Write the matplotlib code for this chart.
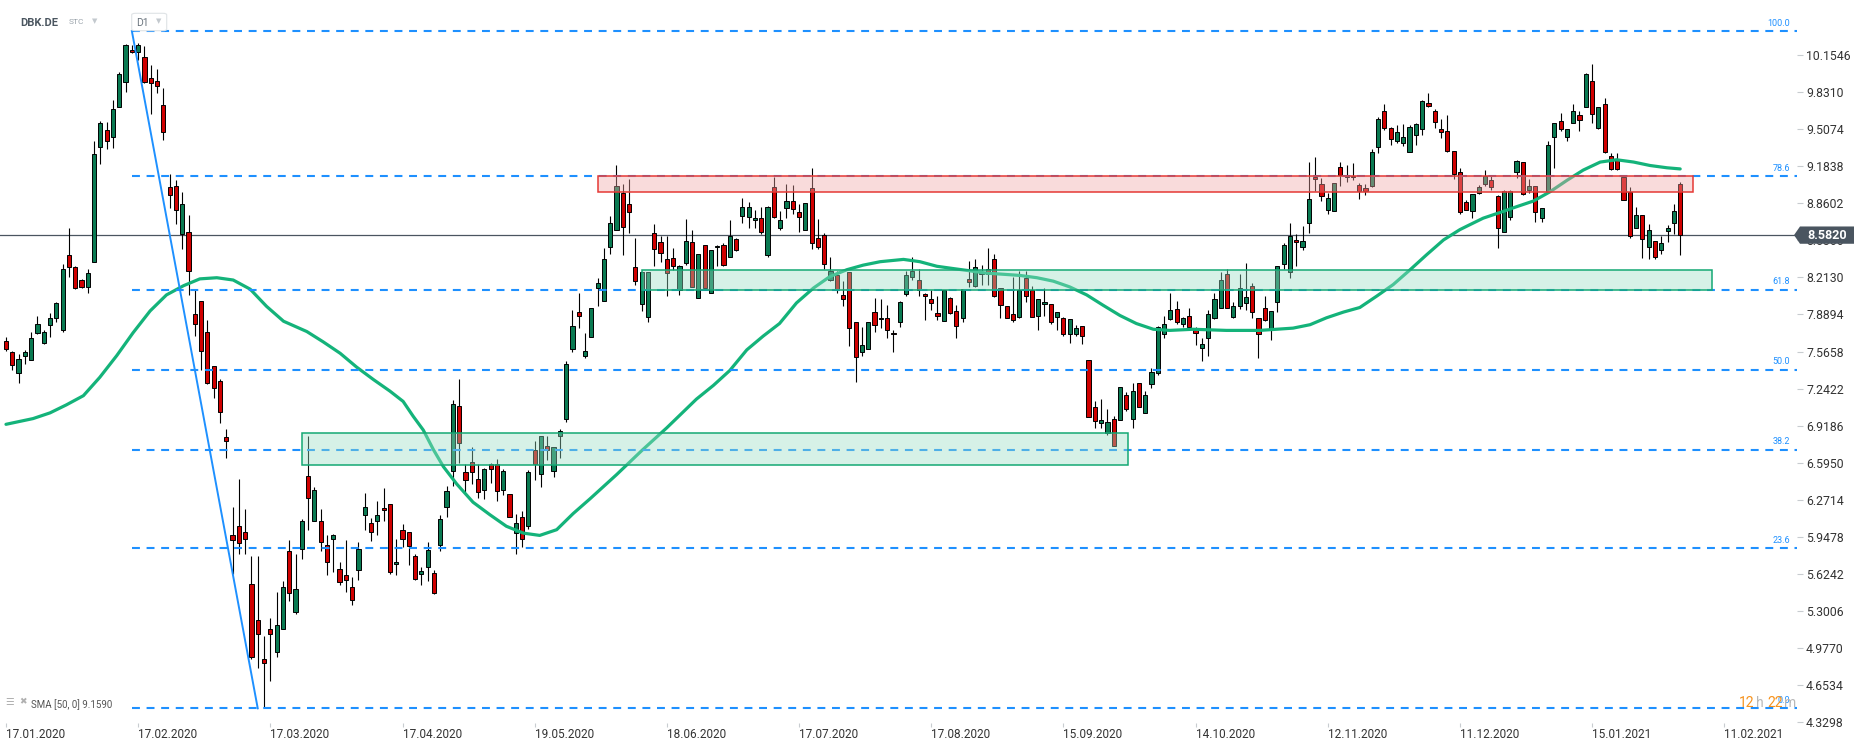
import matplotlib
matplotlib.use("Agg")
import matplotlib.pyplot as plt
import matplotlib.transforms as mtransforms
from matplotlib.patches import Rectangle, Polygon, FancyBboxPatch

plt.rcParams['font.family'] = ['Roboto', 'DejaVu Sans']

# daily candles DBK.DE, bar index 0 = 17.01.2020
opens = [7.66, 7.56, 7.38, 7.53, 7.49, 7.73, 7.64, 7.80, 7.86, 7.75,
         8.41, 8.30, 8.19, 8.13, 8.35, 9.35, 9.50, 9.44, 9.70, 9.92,
         10.20, 10.18, 10.14, 9.95, 9.93, 9.72, 9.00, 9.01, 8.59, 8.61,
         7.89, 8.01, 7.74, 7.44, 7.31, 6.82, 5.96, 6.04, 5.99, 5.54,
         5.22, 4.88, 5.14, 4.94, 5.14, 5.82, 5.29, 5.84, 6.48, 6.09,
         6.09, 5.88, 5.93, 5.67, 5.61, 5.51, 5.66, 6.14, 6.07, 6.09,
         6.20, 6.23, 5.71, 6.01, 5.99, 5.78, 5.62, 5.68, 5.63, 5.88,
         6.21, 6.52, 7.09, 6.51, 6.60, 6.45, 6.36, 6.58, 6.58, 6.36,
         6.32, 5.98, 6.12, 6.04, 6.71, 6.50, 6.74, 6.52, 6.83, 6.98,
         7.59, 7.91, 7.53, 7.69, 8.12, 8.01, 8.48, 8.63, 8.95, 8.85,
         8.30, 7.98, 7.87, 8.60, 8.52, 8.37, 8.38, 8.10, 8.34, 8.52,
         8.03, 8.50, 8.08, 8.48, 8.50, 8.39, 8.55, 8.75, 8.74, 8.71,
         8.73, 8.41, 9.00, 8.64, 8.82, 8.88, 8.78, 8.63, 8.99, 8.56,
         8.58, 8.19, 8.23, 8.06, 8.26, 7.82, 7.56, 7.59, 7.91, 7.85,
         7.86, 7.73, 7.82, 8.07, 8.22, 8.19, 8.07, 8.02, 7.90, 7.83,
         8.03, 7.92, 7.86, 8.20, 8.14, 8.24, 8.29, 8.37, 8.12, 7.96,
         7.89, 7.87, 8.21, 8.10, 7.88, 7.98, 7.98, 7.87, 7.86, 7.72,
         7.72, 7.79, 7.49, 7.08, 6.94, 6.85, 6.98, 6.97, 7.19, 6.98,
         7.29, 7.03, 7.28, 7.38, 7.72, 7.85, 7.94, 7.81, 7.88, 7.75,
         7.60, 7.68, 7.86, 7.95, 8.24, 7.87, 7.96, 7.99, 8.14, 7.86,
         7.95, 7.75, 8.00, 8.33, 8.26, 8.54, 8.48, 8.69, 9.09, 9.03,
         8.80, 8.79, 9.18, 9.11, 9.10, 9.02, 8.99, 9.01, 9.35, 9.67,
         9.52, 9.40, 9.39, 9.31, 9.46, 9.51, 9.74, 9.67, 9.51, 9.49,
         9.32, 9.13, 8.87, 8.79, 8.95, 9.03, 9.06, 8.92, 8.61, 8.74,
         9.13, 9.22, 8.98, 9.01, 8.73, 8.97, 9.44, 9.58, 9.44, 9.56,
         9.63, 9.70, 9.93, 9.52, 9.73, 9.27, 9.24, 9.09, 8.96, 8.64,
         8.76, 8.48, 8.53, 8.45, 8.62, 8.69, 9.03]
highs = [7.69, 7.57, 7.54, 7.58, 7.74, 7.88, 7.75, 7.90, 8.00, 8.33,
         8.64, 8.31, 8.20, 8.29, 9.40, 9.58, 9.57, 9.76, 10.01, 10.25,
         10.24, 10.26, 10.23, 10.07, 10.03, 9.87, 9.12, 9.06, 8.96, 8.76,
         8.10, 8.01, 7.84, 7.44, 7.33, 6.89, 6.21, 6.45, 6.19, 5.78,
         5.78, 5.08, 5.24, 5.47, 5.56, 5.92, 5.80, 6.10, 6.83, 6.38,
         6.19, 5.96, 5.97, 5.73, 5.92, 5.60, 5.90, 6.33, 6.11, 6.26,
         6.37, 6.23, 5.93, 6.06, 5.99, 5.80, 5.68, 5.90, 5.66, 6.14,
         6.39, 7.14, 7.33, 6.58, 6.73, 6.58, 6.55, 6.59, 6.63, 6.54,
         6.32, 6.15, 6.17, 6.53, 6.78, 6.83, 6.83, 6.73, 6.89, 7.48,
         7.93, 8.08, 7.73, 7.95, 8.21, 8.47, 8.75, 9.19, 9.03, 9.07,
         8.56, 8.26, 8.26, 8.68, 8.57, 8.57, 8.47, 8.32, 8.72, 8.63,
         8.42, 8.50, 8.45, 8.50, 8.51, 8.71, 8.56, 8.91, 8.87, 8.80,
         8.83, 8.84, 9.09, 8.79, 9.03, 9.02, 8.85, 8.86, 9.17, 8.72,
         8.60, 8.39, 8.27, 8.18, 8.26, 7.82, 7.78, 7.82, 8.03, 8.02,
         7.97, 7.75, 8.01, 8.27, 8.39, 8.29, 8.08, 8.10, 8.05, 8.10,
         8.04, 7.97, 8.11, 8.36, 8.37, 8.32, 8.47, 8.42, 8.12, 7.96,
         8.22, 8.27, 8.27, 8.14, 8.02, 8.12, 7.98, 7.91, 7.87, 7.85,
         7.80, 7.79, 7.49, 7.13, 7.15, 7.06, 7.00, 7.26, 7.21, 7.29,
         7.29, 7.22, 7.42, 7.79, 7.88, 8.08, 8.01, 7.87, 7.95, 7.78,
         7.68, 7.93, 8.08, 8.26, 8.29, 8.00, 8.24, 8.34, 8.16, 7.86,
         8.05, 7.92, 8.31, 8.51, 8.69, 8.59, 8.66, 9.22, 9.26, 9.08,
         8.95, 9.04, 9.22, 9.19, 9.21, 9.04, 9.03, 9.33, 9.61, 9.73,
         9.53, 9.54, 9.55, 9.54, 9.56, 9.76, 9.82, 9.68, 9.60, 9.63,
         9.32, 9.17, 8.89, 8.94, 9.02, 9.15, 9.10, 8.93, 8.98, 8.98,
         9.24, 9.22, 9.07, 9.01, 8.82, 9.40, 9.56, 9.65, 9.51, 9.73,
         9.67, 10.00, 10.08, 9.70, 9.78, 9.30, 9.30, 9.09, 9.00, 8.83,
         8.76, 8.68, 8.53, 8.57, 8.67, 8.85, 9.05]
lows = [7.57, 7.40, 7.29, 7.46, 7.49, 7.72, 7.63, 7.69, 7.82, 7.74,
        8.22, 8.11, 8.12, 8.08, 8.35, 9.20, 9.33, 9.34, 9.70, 9.83,
        10.17, 10.11, 9.91, 9.64, 9.82, 9.41, 8.82, 8.68, 8.46, 8.06,
        7.70, 7.40, 7.28, 7.16, 6.94, 6.64, 5.62, 5.80, 5.80, 4.88,
        4.80, 4.45, 4.69, 4.90, 5.14, 5.39, 5.27, 5.75, 6.01, 6.09,
        5.82, 5.61, 5.64, 5.53, 5.47, 5.35, 5.57, 6.01, 5.91, 5.96,
        6.09, 5.62, 5.61, 5.86, 5.70, 5.57, 5.53, 5.56, 5.45, 5.82,
        6.12, 6.39, 6.59, 6.34, 6.41, 6.29, 6.28, 6.42, 6.26, 6.31,
        6.12, 5.80, 5.86, 6.02, 6.44, 6.38, 6.62, 6.47, 6.64, 6.95,
        7.56, 7.77, 7.51, 7.69, 7.96, 8.01, 8.42, 8.63, 8.41, 8.60,
        8.15, 7.92, 7.82, 8.31, 8.35, 8.05, 8.28, 8.06, 8.32, 8.13,
        8.03, 8.12, 8.08, 8.31, 8.31, 8.39, 8.44, 8.69, 8.64, 8.64,
        8.59, 8.39, 8.73, 8.63, 8.73, 8.77, 8.61, 8.63, 8.46, 8.46,
        8.29, 8.18, 8.08, 7.96, 7.61, 7.30, 7.53, 7.59, 7.74, 7.77,
        7.68, 7.56, 7.78, 8.05, 8.19, 8.05, 7.84, 7.93, 7.84, 7.83,
        7.89, 7.68, 7.82, 8.13, 8.13, 8.15, 8.15, 8.04, 7.86, 7.86,
        7.82, 7.86, 8.00, 7.87, 7.75, 7.88, 7.81, 7.75, 7.70, 7.64,
        7.70, 7.63, 6.99, 6.90, 6.90, 6.84, 6.74, 6.97, 7.05, 6.90,
        7.08, 7.03, 7.25, 7.36, 7.68, 7.84, 7.81, 7.78, 7.78, 7.62,
        7.48, 7.53, 7.85, 7.95, 7.95, 7.86, 7.94, 7.93, 7.86, 7.51,
        7.83, 7.67, 7.91, 8.29, 8.21, 8.31, 8.45, 8.60, 8.97, 8.88,
        8.77, 8.79, 9.01, 9.05, 9.06, 8.90, 8.93, 9.00, 9.30, 9.50,
        9.37, 9.39, 9.36, 9.31, 9.37, 9.46, 9.70, 9.52, 9.43, 9.31,
        9.07, 8.77, 8.80, 8.73, 8.94, 9.01, 8.98, 8.47, 8.61, 8.71,
        9.08, 8.93, 8.95, 8.70, 8.70, 8.97, 9.17, 9.49, 9.40, 9.56,
        9.49, 9.70, 9.56, 9.51, 9.30, 9.15, 9.15, 8.89, 8.56, 8.64,
        8.38, 8.37, 8.37, 8.42, 8.52, 8.59, 8.41]
closes = [7.59, 7.45, 7.50, 7.56, 7.68, 7.81, 7.74, 7.86, 7.99, 8.29,
          8.30, 8.12, 8.13, 8.25, 9.29, 9.56, 9.40, 9.68, 9.99, 10.24,
          10.18, 10.24, 9.92, 9.91, 9.88, 9.48, 8.93, 8.80, 8.85, 8.27,
          7.81, 7.57, 7.29, 7.25, 7.04, 6.78, 5.92, 5.89, 5.93, 4.90,
          5.10, 4.85, 5.10, 5.18, 5.51, 5.46, 5.49, 6.09, 6.29, 6.36,
          5.90, 5.73, 5.96, 5.55, 5.57, 5.40, 5.84, 6.21, 5.99, 6.14,
          6.18, 5.64, 5.73, 5.93, 5.87, 5.58, 5.65, 5.83, 5.46, 6.10,
          6.35, 7.11, 6.77, 6.44, 6.51, 6.34, 6.54, 6.54, 6.35, 6.52,
          6.12, 6.07, 5.93, 6.51, 6.58, 6.83, 6.71, 6.73, 6.87, 7.46,
          7.79, 7.88, 7.57, 7.95, 8.16, 8.37, 8.69, 9.01, 8.65, 8.78,
          8.18, 8.26, 8.26, 8.46, 8.43, 8.25, 8.31, 8.31, 8.53, 8.13,
          8.42, 8.12, 8.45, 8.49, 8.32, 8.57, 8.45, 8.83, 8.83, 8.73,
          8.61, 8.83, 8.74, 8.71, 8.88, 8.81, 8.74, 8.86, 8.51, 8.48,
          8.33, 8.27, 8.10, 8.02, 7.77, 7.52, 7.62, 7.82, 7.80, 7.86,
          7.75, 7.72, 8.00, 8.23, 8.27, 8.10, 8.05, 7.99, 7.88, 8.10,
          7.90, 7.79, 8.11, 8.17, 8.30, 8.26, 8.24, 8.05, 7.97, 7.86,
          7.84, 8.10, 8.05, 7.87, 8.02, 8.00, 7.82, 7.91, 7.72, 7.85,
          7.77, 7.70, 6.99, 6.96, 6.97, 6.95, 6.74, 7.26, 7.06, 7.22,
          7.08, 7.19, 7.39, 7.78, 7.81, 7.93, 7.82, 7.86, 7.78, 7.73,
          7.63, 7.89, 8.02, 8.19, 7.95, 7.96, 8.12, 8.04, 7.91, 7.72,
          7.84, 7.92, 8.31, 8.50, 8.57, 8.52, 8.53, 8.90, 9.07, 8.92,
          8.91, 9.04, 9.11, 9.09, 9.09, 8.97, 8.97, 9.31, 9.60, 9.52,
          9.42, 9.48, 9.44, 9.53, 9.55, 9.75, 9.71, 9.57, 9.48, 9.32,
          9.12, 8.78, 8.80, 8.94, 9.00, 9.10, 9.00, 8.64, 8.97, 8.97,
          9.23, 8.94, 9.01, 8.78, 8.82, 9.37, 9.56, 9.51, 9.51, 9.67,
          9.59, 9.99, 9.64, 9.70, 9.31, 9.16, 9.16, 8.89, 8.57, 8.76,
          8.55, 8.63, 8.39, 8.51, 8.64, 8.79, 8.58]

# SMA(50) at these bar positions
sma_idx = [0, 4.3, 7, 9.6, 12.3, 14.9, 17.6, 20.2, 22.9, 25.5, 28.2, 30.8,
           33.5, 36.1, 38.8, 41.4, 44.1, 47.8, 50.4, 53.1, 55.7, 58.4, 61,
           63.1, 64.7, 66.3, 67.9, 69.5, 71.6, 74.2, 76.9, 79.5, 82.2, 84.8,
           87.5, 90.1, 92.8, 97, 101, 105, 109.7, 112.4, 115, 117.7, 120.3,
           122.9, 125.6, 128.3, 130.9, 133.6, 136.2, 138.9, 142.6, 145.2,
           147.9, 150.5, 153.2, 155.8, 158.5, 161.1, 163.8, 166.4, 169,
           171.7, 174.3, 177, 179.6, 182.3, 184.9, 188.6, 193.9, 199.2,
           204.5, 207.2, 209.8, 212.5, 215.1, 217.8, 220.4, 223.1, 225.7,
           228.4, 231, 232.1, 234.7, 237.4, 240, 242.7, 245.3, 248, 250.6,
           253.3, 255.9, 258.6, 261.2, 263.9, 266]
sma_val = [6.93, 6.98, 7.03, 7.10, 7.18, 7.34, 7.53, 7.73, 7.92, 8.06, 8.14,
           8.20, 8.21, 8.19, 8.11, 7.96, 7.83, 7.74, 7.65, 7.55, 7.43, 7.32,
           7.22, 7.13, 7.00, 6.88, 6.71, 6.56, 6.41, 6.25, 6.14, 6.04, 5.98,
           5.96, 6.01, 6.15, 6.28, 6.49, 6.70, 6.90, 7.15, 7.27, 7.40, 7.58,
           7.70, 7.81, 7.99, 8.12, 8.22, 8.28, 8.32, 8.35, 8.37, 8.35, 8.31,
           8.29, 8.27, 8.25, 8.24, 8.23, 8.21, 8.18, 8.13, 8.06, 7.97, 7.88,
           7.81, 7.76, 7.75, 7.76, 7.75, 7.75, 7.77, 7.80, 7.86, 7.91, 7.95,
           8.05, 8.15, 8.28, 8.41, 8.54, 8.63, 8.66, 8.73, 8.78, 8.83, 8.88,
           8.96, 9.06, 9.15, 9.22, 9.24, 9.22, 9.19, 9.17, 9.16]

date_ticks = [0, 21, 42, 63, 84, 105, 126, 147, 168, 189, 210, 231, 252, 273]
date_labels = ['17.01.2020', '17.02.2020', '17.03.2020', '17.04.2020',
               '19.05.2020', '18.06.2020', '17.07.2020', '17.08.2020',
               '15.09.2020', '14.10.2020', '12.11.2020', '11.12.2020',
               '15.01.2021', '11.02.2021']

price_ticks = [10.1546, 9.8310, 9.5074, 9.1838, 8.8602, 8.5366, 8.2130,
               7.8894, 7.5658, 7.2422, 6.9186, 6.5950, 6.2714, 5.9478,
               5.6242, 5.3006, 4.9770, 4.6534, 4.3298]

# fibonacci drawing: anchored at the Feb high and the March low
fib_hi_idx, fib_hi = 20, 10.364
fib_lo_idx, fib_lo = 40, 4.450
fib_levels = [100.0, 78.6, 61.8, 50.0, 38.2, 23.6, 0.0]

# zones (bar from, bar to, price low, price high)
red_zone = (94.1, 268.1, 8.961, 9.098)
green_zone_hi = (101.0, 271.1, 8.100, 8.274)
green_zone_lo = (47.1, 178.2, 6.572, 6.851)

last_price = 8.5820
sma_label = 'SMA [50, 0] 9.1590'

W, H = 1866, 748
fig = plt.figure(figsize=(W / 100, H / 100), dpi=100)
ax = fig.add_axes([0, 25 / H, 1797 / W, 723 / H])
XMAX = 284.56
ax.set_xlim(-0.95, XMAX)
ax.set_ylim(4.322, 10.635)
for s in ax.spines.values():
    s.set_visible(False)

GREEN = '#0a7a52'
RED = '#d00000'
BLUE = '#1e90ff'

# candles
xs = list(range(len(opens)))
cols = [GREEN if c >= o else RED for o, c in zip(opens, closes)]
ax.vlines(xs, lows, highs, color='black', lw=0.8, zorder=3)
bottoms = [min(o, c) for o, c in zip(opens, closes)]
heights = [max(abs(c - o), 0.01) for o, c in zip(opens, closes)]
ax.bar(xs, heights, bottom=bottoms, width=0.66, color=cols,
       edgecolor='black', linewidth=0.7, zorder=4)

# last price line
ax.axhline(last_price, color='#4a5560', lw=0.9, zorder=2)

# SMA 50
ax.plot(sma_idx, sma_val, color='#14b37a', lw=2.3, zorder=5,
        solid_capstyle='round', solid_joinstyle='round')

# fibonacci
ax.plot([fib_hi_idx, fib_lo_idx], [fib_hi, fib_lo], color=BLUE, lw=1.4, zorder=6)
for lvl in fib_levels:
    price = fib_lo + lvl / 100 * (fib_hi - fib_lo)
    ax.hlines(price, fib_hi_idx, XMAX, colors=BLUE, lw=1.5,
              linestyles=(0, (3.8, 3.2)), zorder=6)
    ax.annotate(f'{lvl:.1f}', xy=(1790 / 1797, price),
                xycoords=('axes fraction', 'data'), xytext=(0, 2.5),
                textcoords='offset points', ha='right', va='bottom',
                fontsize=6.5, color=BLUE, zorder=8)

# zones
for (x0, x1, y0, y1), face, edge in [
        (red_zone, (0.95, 0.65, 0.65, 0.4), '#e53935'),
        (green_zone_hi, (0.60, 0.87, 0.77, 0.4), '#14a874'),
        (green_zone_lo, (0.60, 0.87, 0.77, 0.4), '#14a874')]:
    ax.add_patch(Rectangle((x0, y0), x1 - x0, y1 - y0, facecolor=face,
                           edgecolor=edge, lw=1.1, zorder=7))

# axes ticks
ax.yaxis.tick_right()
ax.set_yticks(price_ticks)
ax.set_yticklabels([f'{v:.4f}' for v in price_ticks])
ax.tick_params(axis='y', length=4.5, width=0.8, color='#c8ccd0',
               labelsize=8.8, labelcolor='#333333', pad=2)
ax.set_xticks(date_ticks)
ax.set_xticklabels(date_labels, ha='left')
ax.tick_params(axis='x', length=3.2, width=0.8, color='#c8ccd0',
               labelsize=8.5, labelcolor='#333333', pad=0.5)

# current price tag
tr = mtransforms.blended_transform_factory(ax.transAxes, ax.transData)
hh = 0.0755
tag = Polygon([(1794 / 1797, last_price), (1800 / 1797, last_price + hh),
               (1854 / 1797, last_price + hh), (1854 / 1797, last_price - hh),
               (1800 / 1797, last_price - hh)], closed=True,
              facecolor='#4a5560', edgecolor='none', transform=tr,
              clip_on=False, zorder=10)
ax.add_patch(tag)
ax.text(1827 / 1797, last_price, f'{last_price:.4f}', transform=tr,
        ha='center', va='center', color='white', fontsize=9,
        fontweight='bold', zorder=11, clip_on=False)


def fx(px):
    return px / W


def fy(py):
    return 1 - py / H


# header
fig.text(fx(20), fy(22.5), 'DBK.DE', fontsize=8, fontweight='bold',
         color='#4b5660', va='center')
fig.text(fx(69), fy(22.5), 'STC', fontsize=6, color='#9aa3ab', va='center')
fig.text(fx(92), fy(21.5), '\u25BC', fontsize=5, color='#c3c9ce', va='center')
fig.patches.append(FancyBboxPatch((fx(131.7), fy(30.7)), 35 / W, 17.4 / H,
                                  boxstyle='round,pad=0,rounding_size=0.002',
                                  facecolor='white', edgecolor='#dfe3e6',
                                  lw=0.8, transform=fig.transFigure, zorder=9))
fig.text(fx(136.5), fy(22.5), 'D1', fontsize=7.5, color='#6b757e',
         va='center', zorder=10)
fig.text(fx(155.5), fy(21.5), '\u25BC', fontsize=5, color='#c3c9ce',
         va='center', zorder=10)

# indicator legend
fig.text(fx(5), fy(702), '\u2630', fontsize=7, color='#b0b0b0', va='center',
         family='DejaVu Sans')
fig.text(fx(19), fy(702), '\u2716', fontsize=6.5, color='#b0b0b0',
         va='center', family='DejaVu Sans')
fig.text(fx(31), fy(705), sma_label, fontsize=7, color='#555555', va='center')

# countdown
for txt, px, col in [('12', 1739, '#f7931e'), ('h', 1756, '#b8b8b8'),
                     ('22', 1767.5, '#f7931e'), ('m', 1784, '#b8b8b8')]:
    fig.text(fx(px), fy(703), txt, fontsize=10, color=col, va='center')

fig.savefig('out.png', dpi=100, facecolor='white')
